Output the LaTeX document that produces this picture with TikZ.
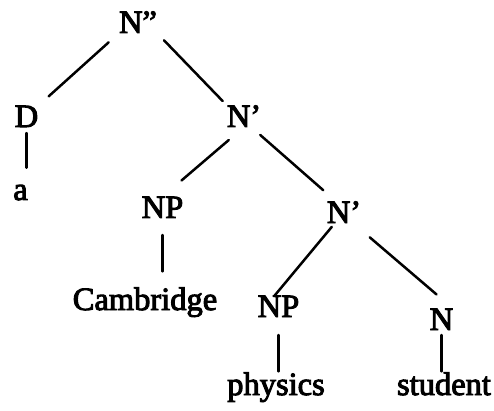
\documentclass[tikz,border=0pt]{standalone}
\usepackage{fontspec}
\newfontfamily\treefont{Liberation Serif}[FakeBold=3]
\usetikzlibrary{positioning, calc}

\begin{document}
\begin{tikzpicture}[
            x=1pt, y=-1pt,
            cat/.style={inner sep=0pt, outer sep=0pt, anchor=base, font=\treefont\fontsize{32.5}{39}\selectfont},
            word/.style={cat},
            branch/.style={line width=2.5pt, line cap=round}
        ]
            \useasboundingbox (0,0) rectangle (494,411);

            % --- categories ---
            \node[cat] (top) at (138,33) {N”};
            \node[cat] (d) at (26.5,127) {D};
            \node[cat] (nb1) at (244,127) {N’};
            \node[cat] (np1) at (162.5,218) {NP};
            \node[cat] (nb2) at (344,223) {N’};
            \node[cat] (np2) at (278.5,317) {NP};
            \node[cat] (n) at (441.5,330) {N};

            % --- words ---
            \node[word] (a) at (20.5,200) {a};
            \node[word] (camb) at (145,310) {Cambridge};
            \node[word] (phys) at (276,395) {physics};
            \node[word] (stud) at (444,395) {student};

            % --- branches ---
            \draw[branch, shorten <=14pt, shorten >=14pt] (top.south west) -- (d.north east);
            \draw[branch, shorten <=10pt, shorten >=6pt] (top.south east) -- (nb1.north west);
            \draw[branch, shorten <=6pt, shorten >=17pt] (d.south) -- (d.south |- a.north);
            \draw[branch, shorten <=20pt, shorten >=25pt] (nb1.south) -- (np1.north);
            \draw[branch, shorten <=12pt, shorten >=17pt] ([xshift=-10pt]nb1.south east) -- ([xshift=-8pt]nb2.north);
            \draw[branch, shorten <=17pt, shorten >=16pt] (np1.south) -- (np1.south |- camb.north);
            \draw[branch, shorten <=5pt] ([xshift=-9pt]nb2.south) -- ([xshift=-4pt]np2.north);
            \draw[branch, shorten <=22pt, shorten >=22pt] ([xshift=9pt]nb2.south) -- (n.north east);
            \draw[branch, shorten <=18pt, shorten >=1pt] (np2.south) -- (np2.south |- phys.north);
            \draw[branch, shorten <=5pt, shorten >=1pt] (n.south) -- (n.south |- stud.north);
        \end{tikzpicture}
\end{document}
